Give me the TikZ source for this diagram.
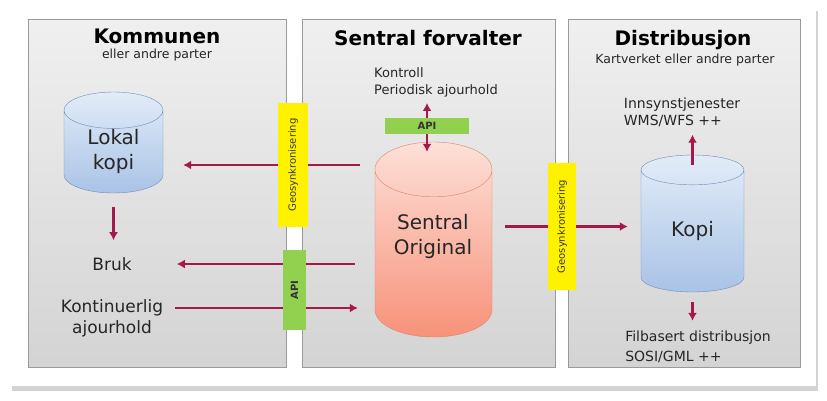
\documentclass[tikz,border=0pt]{standalone}
\usepackage{fontspec}
\setmainfont{DejaVu Sans}
\usepackage{tikz}
\usetikzlibrary{positioning,arrows.meta,shapes.geometric,shadows}

\definecolor{arrowred}{HTML}{A3194B}
\definecolor{panelline}{HTML}{9A9A9A}
\definecolor{bluetop}{HTML}{E2ECF8}
\definecolor{bluebot}{HTML}{A9C3E6}
\definecolor{blueline}{HTML}{6F8DB5}
\definecolor{salmontop}{HTML}{FDE0D8}
\definecolor{salmonbot}{HTML}{F79279}
\definecolor{salmonline}{HTML}{D98470}
\definecolor{apigreen}{HTML}{92D050}

\begin{document}
\begin{tikzpicture}[
x=1pt, y=-1pt,
panel/.style={draw=panelline, top color=black!6, bottom color=black!17, inner sep=0pt},
title/.style={font=\fontsize{20}{24}\selectfont\bfseries, inner sep=0pt},
subtitle/.style={font=\fontsize{12.5}{15}\selectfont, text=black!85, inner sep=0pt},
cyl/.style={shape=cylinder, shape border rotate=90, aspect=0.7, anchor=shape center, draw, align=center, inner sep=0pt, font=\fontsize{20}{25}\selectfont, text=black!85},
bluecyl/.style={cyl, draw=blueline, top color=bluetop, bottom color=bluebot},
redcyl/.style={cyl, draw=salmonline, top color=salmontop, bottom color=salmonbot},
label/.style={align=left, inner sep=0pt, text=black!85},
sync/.style={fill=yellow, rotate=90, inner sep=0pt, font=\fontsize{10}{12}\selectfont, text=black!80},
api/.style={fill=apigreen, inner sep=0pt, font=\fontsize{10}{12}\selectfont\bfseries, text=black!80},
arrow/.style={-{Latex[length=8pt,width=9pt]}, line width=2.4pt, arrowred},
biarrow/.style={{Latex[length=8pt,width=9pt]}-{Latex[length=8pt,width=9pt]}, line width=2.4pt, arrowred}
]
\useasboundingbox (0,0) rectangle (827,400);
\fill[white, drop shadow={opacity=0.35, shadow xshift=2pt, shadow yshift=-5pt}] (10,6) rectangle (816,386);

% panels
\node[panel, minimum width=258pt, minimum height=348pt] (kommune) at (157,193) {};
\node[panel, minimum width=253pt, minimum height=348pt] (forvalter) at (428.5,193) {};
\node[panel, minimum width=232pt, minimum height=348pt] (distr) at (684,193) {};

\node[title] (t1) at (157,36) {Kommunen};
\node[subtitle] (s1) at (157,55) {eller andre parter};
\node[title] (t2) at (428,38) {Sentral forvalter};
\node[title] (t3) at (683,40) {Distribusjon};
\node[subtitle] (s3) at (685,60) {Kartverket eller andre parter};

% databases
\node[bluecyl, minimum width=99pt, minimum height=101pt] (lokal) at (113.5,142.5) {Lokal\\kopi};
\node[redcyl, minimum width=117pt, minimum height=195pt] (sentral) at (433.5,239.5) {\phantom{Sentral}\\\phantom{Original}};
\node[label, align=center, font=\fontsize{20}{25}\selectfont] (sentraltxt) at (433,236) {Sentral\\Original};
\node[bluecyl, minimum width=103pt, minimum height=137pt] (kopi) at (692.5,223.5) {Kopi};

% texts
\node[label, font=\fontsize{17}{21}\selectfont] (bruk) at (112,264) {Bruk};
\node[label, align=center, font=\fontsize{17}{21}\selectfont] (ajour) at (112,318) {Kontinuerlig\\ajourhold};
\node[label, font=\fontsize{13}{17}\selectfont] (kontroll) at (436,82) {Kontroll\\Periodisk ajourhold};
\node[label, font=\fontsize{14}{17}\selectfont] (innsyn) at (682,112) {Innsynstjenester\\WMS/WFS ++};
\node[label, font=\fontsize{14}{20}\selectfont] (fil) at (698,347) {Filbasert distribusjon\\SOSI/GML ++};

\coordinate (geoA) at (293,165);
\coordinate (geoB) at (562,226.5);
\coordinate (apiC) at (427,126);
\coordinate (a3) at ([yshift=10pt]ajour.east);

% connectors
\draw[arrow, shorten <=15pt, shorten >=20pt] (sentral.west |- geoA) -- (lokal.east |- geoA);
\draw[arrow, shorten <=20pt, shorten >=45pt] (sentral.west |- bruk) -- (bruk.east);
\draw[arrow, shorten <=12pt, shorten >=17pt] (a3) -- (sentral.west |- a3);
\draw[arrow, shorten <=13pt, shorten >=13pt] (sentral.east |- geoB) -- (kopi.west |- geoB);
\draw[arrow, shorten <=14pt, shorten >=17pt] (lokal.south) -- (lokal.south |- bruk.north);
\draw[arrow, shorten <=-10pt, shorten >=8pt] (kopi.north) -- (kopi.north |- innsyn.south);
\draw[arrow, shorten <=10pt, shorten >=10pt] (kopi.south) -- (kopi.south |- fil.north);
\draw[biarrow, shorten <=6pt, shorten >=-10pt] (apiC |- kontroll.south) -- (apiC |- sentral.north);

% interfaces
\node[sync, minimum width=124pt, minimum height=30pt] (syncA) at (geoA) {Geosynkronisering};
\node[sync, minimum width=127pt, minimum height=28pt] (syncB) at (geoB) {Geosynkronisering};
\node[api, rotate=90, minimum width=80pt, minimum height=23pt] (apiA) at (294.5,290) {API};
\node[api, minimum width=84pt, minimum height=16pt] (apiB) at (apiC) {API};
\end{tikzpicture}
\end{document}
